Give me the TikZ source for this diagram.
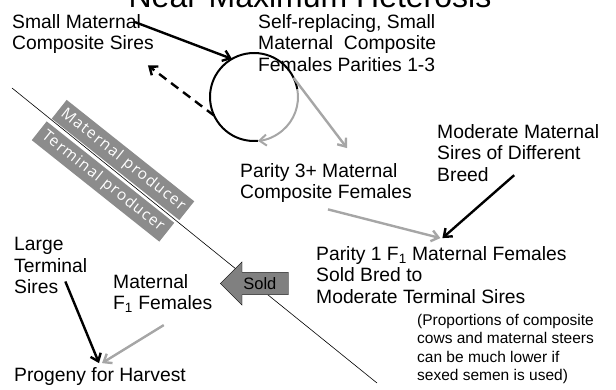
\documentclass[tikz,border=0pt]{standalone}
\usepackage{fontspec}
\setmainfont{Liberation Sans}
\newfontfamily\bannerfont[LetterSpace=8]{Open Sans}
\usetikzlibrary{arrows.meta,shapes.arrows}

\begin{document}
\begin{tikzpicture}[x=1pt, y=1pt,
  font=\fontsize{19.3}{21.5}\selectfont,
  lbl/.style={inner sep=0pt, align=left, anchor=north west},
  note/.style={lbl, font=\fontsize{15.5}{18.5}\selectfont},
  banner/.style={fill=black!45, text=white, rotate=-38.5, minimum width=163pt, minimum height=24pt,
    inner sep=0pt, font=\bannerfont\fontsize{15.5}{18}\selectfont},
  blk/.style={-{Straight Barb[length=7pt, width=11pt]}, line width=2.4pt},
  gry/.style={blk, draw=black!35}]
\useasboundingbox (0,0) rectangle (616,-390);
\node[anchor=base, font=\fontsize{32}{36}\selectfont] (title) at (310,-8) {Near-Maximum Heterosis};
\coordinate (divA) at (12,-88);
\coordinate (divB) at (377,-383);
\draw[line width=0.6pt] (divA) -- (divB);
\node[banner] (matprod)  at (123,-160)   {Maternal producer};
\node[banner] (termprod) at (103,-181.5) {Terminal producer};
\node[lbl] (smsires)  at (12,-14.1)  {Small Maternal\\Composite Sires};
\node[lbl] (selfrep)  at (258,-14.1) {Self-replacing, Small\\Maternal\ \ Composite\\Females Parities 1-3};
\node[lbl] (par3)     at (240,-163.1) {Parity 3+ Maternal\\Composite Females};
\node[lbl] (modsires) at (437,-124.1) {Moderate Maternal\\Sires of Different\\Breed};
\node[lbl] (par1)     at (316,-246.1) {Parity 1 F\textsubscript{1} Maternal Females\\Sold Bred to\\Moderate Terminal Sires};
\node[note] (sexed)   at (417,-313.8) {(Proportions of composite\\cows and maternal steers\\can be much lower if\\sexed semen is used)};
\node[lbl] (lgsires)  at (14,-237.1) {Large\\Terminal\\Sires};
\node[lbl] (matf1)    at (113,-274.1) {Maternal\\F\textsubscript{1} Females};
\node[lbl] (progeny)  at (14,-367.1) {Progeny for Harvest};
\node[circle, minimum size=88pt, outer sep=0pt] (loop) at (254,-97) {};
\node[draw, fill=black!50, single arrow, shape border rotate=180, single arrow head extend=10.5pt,
  minimum height=68pt, inner xsep=5pt, inner ysep=5pt, font=\fontsize{16.5}{18}\selectfont,
  anchor=tip] (sold) at (220,-283.5) {Sold};
\draw[line width=2pt] (loop.-85) arc[start angle=-85, end angle=-350, radius=44pt];
\draw[gry, line width=2pt] (loop.10) arc[start angle=10, end angle=-85, radius=44pt];
\draw[blk] ([shift={(-19,-8)}]smsires.north east) -- (loop.120);
\draw[blk, dash pattern=on 9pt off 6pt] (loop.205) -- ([shift={(-6,-11.5)}]smsires.south east);
\draw[gry] (loop.26) -- ([shift={(21,15)}]par3.north);
\draw[gry] ([shift={(2,-6.4)}]par3.south) -- ([shift={(-1,8)}]par1.north);
\draw[blk] ([shift={(-4,6.5)}]modsires.south) -- ([shift={(1,8)}]par1.north);
\draw[blk] ([shift={(-22,12.5)}]lgsires.south east) -- ([shift={(-1,4)}]progeny.north);
\draw[gry] ([shift={(1,-12)}]matf1.south) -- ([shift={(2,4)}]progeny.north);
\end{tikzpicture}
\end{document}
